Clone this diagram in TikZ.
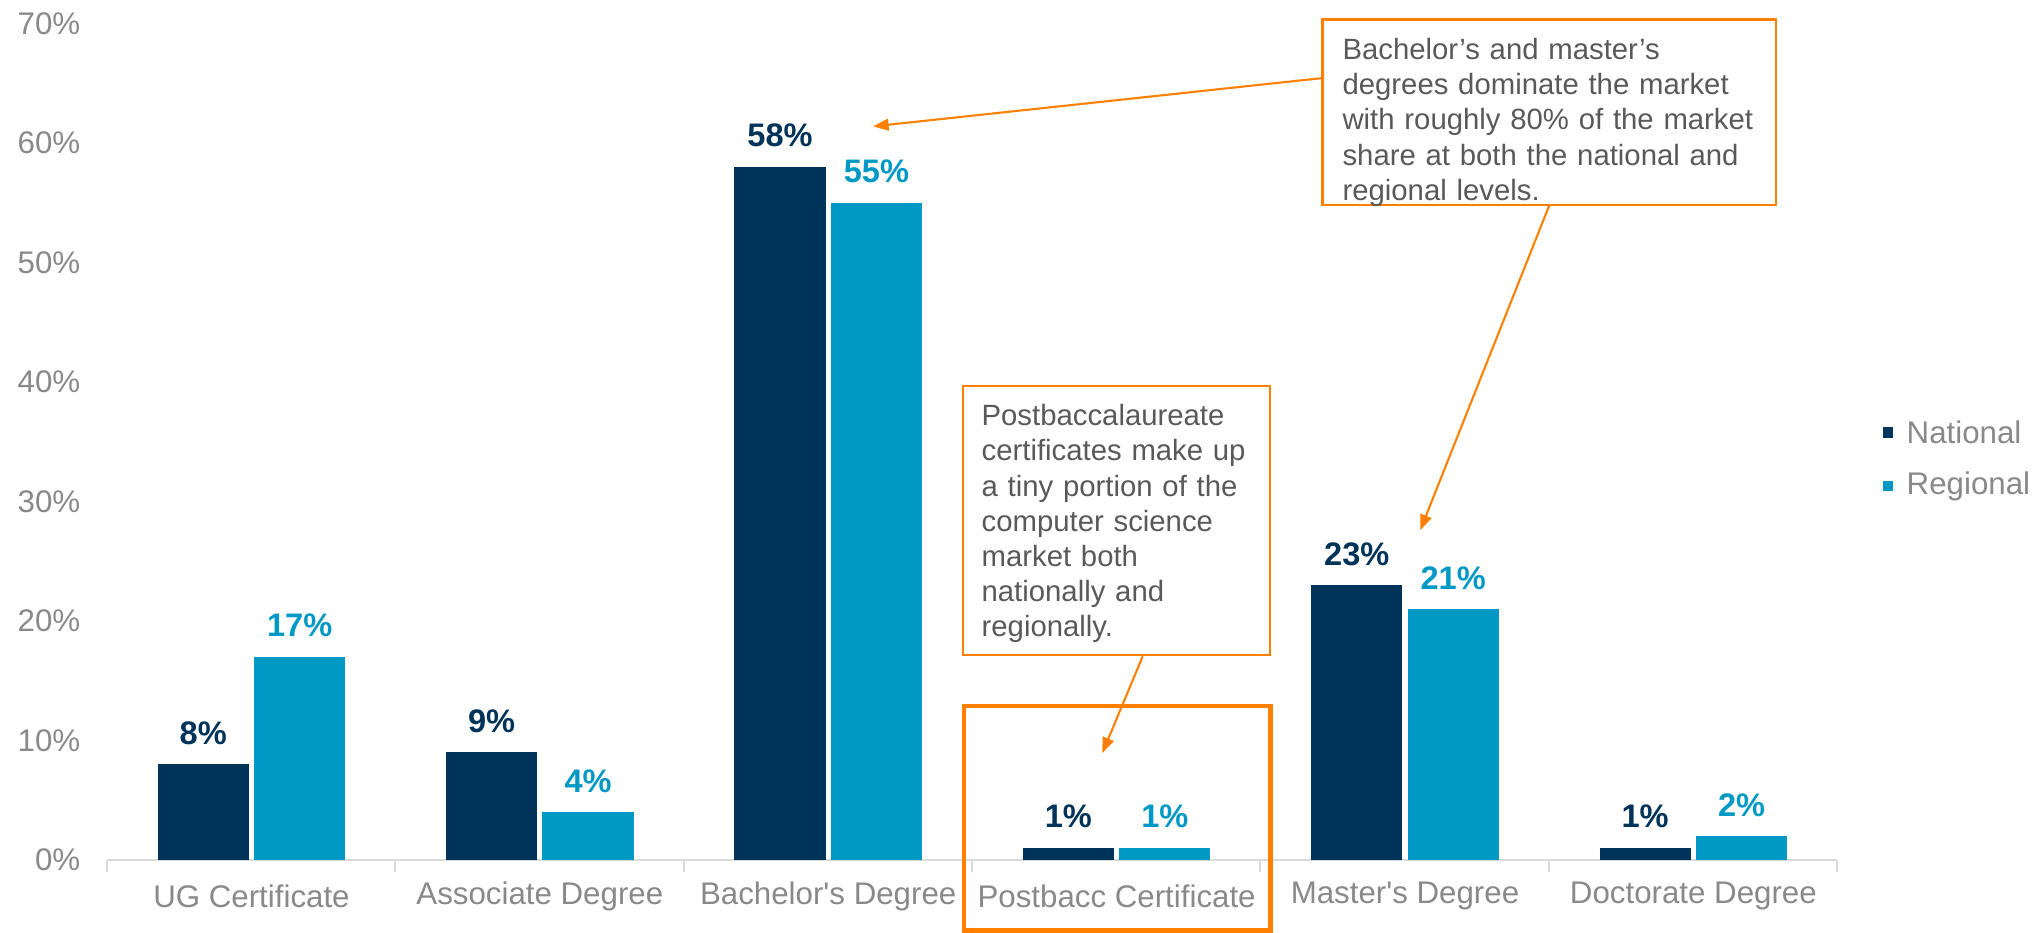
\documentclass[tikz,border=0pt]{standalone}
\usepackage{fontspec}
\setmainfont{Liberation Sans}
\usetikzlibrary{arrows.meta}
\definecolor{navy}{RGB}{0,51,89}
\definecolor{cyanbar}{RGB}{0,153,198}
\definecolor{axgray}{RGB}{137,137,137}
\definecolor{linegray}{RGB}{217,217,217}
\definecolor{orng}{RGB}{255,127,0}
\definecolor{notegray}{RGB}{89,89,89}
\begin{document}
\begin{tikzpicture}[x=0.5pt,y=-0.5pt,
  axlab/.style={font=\fontsize{12}{14}\selectfont, text=axgray, inner sep=0},
  vallab/.style={font=\fontsize{12.5}{15}\selectfont\bfseries, inner sep=0},
  notebox/.style={draw=orng, line width=0.8pt, inner sep=0},
  notetext/.style={font=\fontsize{11.25}{13.5}\selectfont, text=notegray, align=left, inner sep=0, anchor=north west, text width=175pt},
  callout/.style={draw=orng, line width=0.8pt, -{Triangle[length=6pt,width=4.5pt]}},
]
\useasboundingbox (0,0) rectangle (1568,716);
% y axis labels
\foreach \k in {0,...,7}{
  \pgfmathtruncatemacro\v{10*\k}
  \node[axlab, anchor=east] (ylab\k) at (62, 660-91.7*\k) {\v\%};
}
% axis and ticks
\draw[linegray, line width=0.8pt] (82,660) -- (1410,660);
\foreach \k in {0,...,6}{
  \draw[linegray, line width=0.8pt] (82+221.33*\k,660) -- ++(0,9);
}
% bars, value labels, categories
\foreach \i/\cat/\n/\r in {0/UG Certificate/8/17, 1/Associate Degree/9/4, 2/Bachelor\textquotesingle s Degree/58/55, 3/Postbacc Certificate/1/1, 4/Master\textquotesingle s Degree/23/21, 5/Doctorate Degree/1/2}{
  \pgfmathsetmacro\c{193+221.33*\i}
  \fill[navy] (\c-72,660) rectangle (\c-2,660-9.17*\n);
  \fill[cyanbar] (\c+2,660) rectangle (\c+72,660-9.17*\r);
  \node[vallab, text=navy] (vn\i) at (\c-37,660-9.17*\n-24) {\n\%};
  \node[vallab, text=cyanbar] (vr\i) at (\c+37,660-9.17*\r-24) {\r\%};
  \node[axlab] (cat\i) at (\c,688) {\cat};
}
% legend
\fill[navy] (1445,328) rectangle (1453,336);
\node[axlab, anchor=west] (lgn) at (1463,332) {National};
\fill[cyanbar] (1445,369) rectangle (1453,377);
\node[axlab, anchor=west] (lgr) at (1463,373) {Regional};
% note 1
\node[notebox, minimum width=174pt, minimum height=71pt] (b1) at (1189,86) {};
\node[notetext] (t1) at (1030,29) {Bachelor's and master's\\degrees dominate the market\\with roughly 80\% of the market\\share at both the national and\\regional levels.};
% note 2
\node[notebox, minimum width=118pt, minimum height=103.5pt] (b2) at (857,399.5) {};
\node[notetext] (t2) at (753,310) {Postbaccalaureate\\certificates make up\\a tiny portion of the\\computer science\\market both\\nationally and\\regionally.};
% highlight
\node[draw=orng, line width=1.75pt, minimum width=117.5pt, minimum height=86pt, inner sep=0] (hl) at (857.5,628) {};
% arrows
\coordinate (a1e) at (670,97);
\coordinate (a2e) at (1090,407);
\coordinate (a3e) at (846,578);
\draw[callout] ([yshift=13pt]b1.west) -- (a1e);
\draw[callout] (b1.south) -- (a2e);
\draw[callout] ([xshift=10pt]b2.south) -- (a3e);
\end{tikzpicture}
\end{document}
